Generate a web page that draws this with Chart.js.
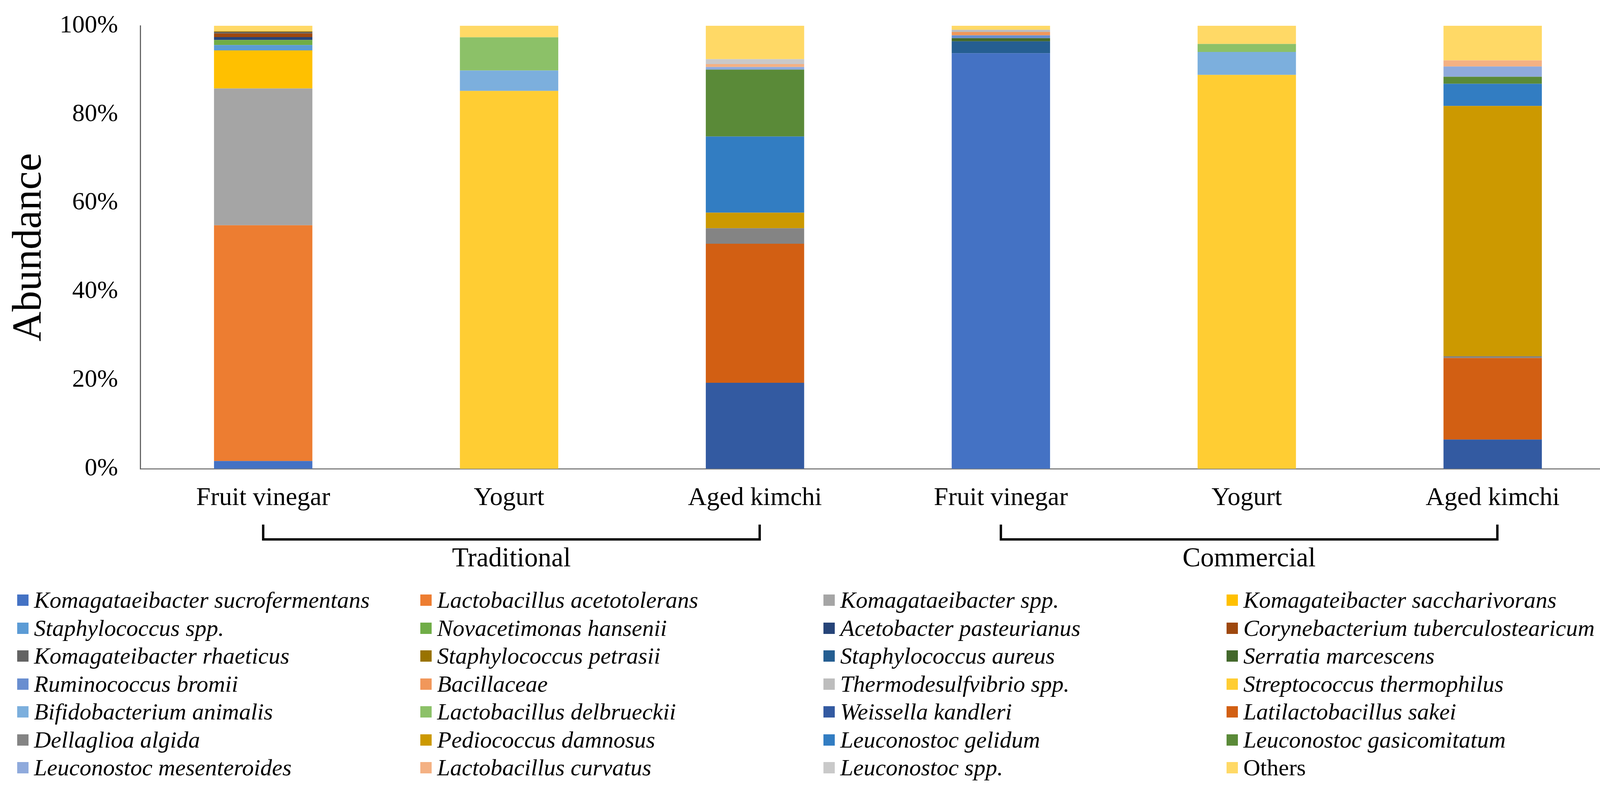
<!DOCTYPE html>
<html>
<head>
<meta charset="utf-8">
<script src="https://cdn.jsdelivr.net/npm/chart.js@4.4.1/dist/chart.umd.min.js"></script>
<style>
    html, body { margin: 0; padding: 0; background: #fff; }
    #wrap { position: relative; width: 4162px; height: 2020px; }
    #chart { position: absolute; left: 0; top: 0; }
    #legend {
        position: absolute; left: 44px; top: 1501px;
        display: grid; grid-template-columns: repeat(4, 1032px); grid-auto-rows: 71.5px;
        font-family: "Liberation Serif", "Times New Roman", serif;
        font-size: 60px; font-style: italic; color: #000;
    }
    .item { display: flex; align-items: center; white-space: nowrap; }
    .item.plain { font-style: normal; }
    .sw { width: 29px; height: 29px; margin-right: 14px; flex: none; }
</style>
</head>
<body>
<div id="wrap">
    <canvas id="chart" width="4162" height="2020"></canvas>
    <div id="legend"></div>
</div>
<script>
// Samples: Traditional (3) then Commercial (3)
const CATEGORIES = ['Fruit vinegar', 'Yogurt', 'Aged kimchi', 'Fruit vinegar', 'Yogurt', 'Aged kimchi'];
const GROUPS = ['Traditional', 'Commercial'];
const Y_TICKS = [0, 20, 40, 60, 80, 100];

// Relative abundance (%) per taxon, same order as CATEGORIES
const kSucrofermentans   = [1.75, 0, 0, 93.8, 0, 0];
const lAcetotolerans     = [53.2, 0, 0, 0, 0, 0];
const kSpp               = [30.9, 0, 0, 0, 0, 0];
const kSaccharivorans    = [8.6, 0, 0, 0, 0, 0];
const staphSpp           = [1.2, 0, 0, 0, 0, 0];
const nHansenii          = [1.15, 0, 0, 0, 0, 0];
const aPasteurianus      = [0.65, 0, 0, 0, 0, 0];
const cTuberculostearicum = [0.8, 0, 0, 0, 0, 0];
const kRhaeticus         = [0.35, 0, 0, 0, 0, 0];
const sPetrasii          = [0.15, 0, 0, 0, 0, 0];
const sAureus            = [0, 0, 0, 2.7, 0, 0];
const sMarcescens        = [0, 0, 0, 0.7, 0, 0];
const rBromii            = [0, 0, 0, 0.65, 0, 0];
const bacillaceae        = [0, 0, 0, 0.75, 0, 0];
const thermoSpp          = [0, 0, 0, 0.5, 0, 0];
const sThermophilus      = [0, 85.3, 0, 0, 88.9, 0];
const bAnimalis          = [0, 4.6, 0, 0, 5.2, 0];
const lDelbrueckii       = [0, 7.5, 0, 0, 1.8, 0];
const wKandleri          = [0, 0, 19.4, 0, 0, 6.6];
const lSakei             = [0, 0, 31.4, 0, 0, 18.4];
const dAlgida            = [0, 0, 3.5, 0, 0, 0.4];
const pDamnosus          = [0, 0, 3.5, 0, 0, 56.5];
const lGelidum           = [0, 0, 17.2, 0, 0, 5.0];
const lGasicomitatum     = [0, 0, 15.1, 0, 0, 1.6];
const lMesenteroides     = [0, 0, 0.6, 0, 0, 2.3];
const lCurvatus          = [0, 0, 0.65, 0, 0, 1.4];
const leuconostocSpp     = [0, 0, 1.1, 0, 0, 0];
const others             = [1.25, 2.6, 7.55, 0.9, 4.1, 7.8];

const TAXA = [
    'Komagataeibacter sucrofermentans', 'Lactobacillus acetotolerans', 'Komagataeibacter spp.', 'Komagateibacter saccharivorans',
    'Staphylococcus spp.', 'Novacetimonas hansenii', 'Acetobacter pasteurianus', 'Corynebacterium tuberculostearicum',
    'Komagateibacter rhaeticus', 'Staphylococcus petrasii', 'Staphylococcus aureus', 'Serratia marcescens',
    'Ruminococcus bromii', 'Bacillaceae', 'Thermodesulfvibrio spp.', 'Streptococcus thermophilus',
    'Bifidobacterium animalis', 'Lactobacillus delbrueckii', 'Weissella kandleri', 'Latilactobacillus sakei',
    'Dellaglioa algida', 'Pediococcus damnosus', 'Leuconostoc gelidum', 'Leuconostoc gasicomitatum',
    'Leuconostoc mesenteroides', 'Lactobacillus curvatus', 'Leuconostoc spp.', 'Others'
];

const VALUES = [
    kSucrofermentans, lAcetotolerans, kSpp, kSaccharivorans,
    staphSpp, nHansenii, aPasteurianus, cTuberculostearicum,
    kRhaeticus, sPetrasii, sAureus, sMarcescens,
    rBromii, bacillaceae, thermoSpp, sThermophilus,
    bAnimalis, lDelbrueckii, wKandleri, lSakei,
    dAlgida, pDamnosus, lGelidum, lGasicomitatum,
    lMesenteroides, lCurvatus, leuconostocSpp, others
];

const COLORS = [
    '#4472C4', '#ED7D31', '#A5A5A5', '#FFC000',
    '#5B9BD5', '#70AD47', '#264478', '#9E480E',
    '#636363', '#997300', '#255E91', '#43682B',
    '#698ED0', '#F1975A', '#BDBDBD', '#FFCD33',
    '#7CAFDD', '#8CC168', '#335AA1', '#D25F13',
    '#848484', '#CC9900', '#327DC2', '#5A8A38',
    '#8FAADC', '#F4B183', '#C9C9C9', '#FFD966'
];

const SERIF = '"Liberation Serif", "Times New Roman", serif';
Chart.defaults.font.family = SERIF;
Chart.defaults.color = '#000';

// Group brackets under the x axis
const groupBrackets = {
    id: 'groupBrackets',
    afterDraw(chart) {
        const ctx = chart.ctx;
        const x = chart.scales.x;
        const base = chart.chartArea.bottom;
        const spans = [[0, 2], [3, 5]];
        ctx.save();
        ctx.strokeStyle = '#000';
        ctx.lineWidth = 6;
        ctx.fillStyle = '#000';
        ctx.font = '69px ' + SERIF;
        ctx.textAlign = 'center';
        ctx.textBaseline = 'middle';
        spans.forEach((s, i) => {
            const x0 = x.getPixelForValue(s[0]);
            const x1 = x.getPixelForValue(s[1]) + 12;
            ctx.beginPath();
            ctx.moveTo(x0, base + 143);
            ctx.lineTo(x0, base + 181);
            ctx.lineTo(x1, base + 181);
            ctx.lineTo(x1, base + 143);
            ctx.stroke();
            ctx.fillText(GROUPS[i], (x0 + x1) / 2, base + 232);
        });
        ctx.restore();
    }
};

const datasets = TAXA.map((name, i) => ({
    label: name,
    data: VALUES[i],
    backgroundColor: COLORS[i],
    borderWidth: 0,
    categoryPercentage: 1.0,
    barPercentage: 0.4
}));

const chart = new Chart(document.getElementById('chart'), {
    type: 'bar',
    data: { labels: CATEGORIES, datasets: datasets },
    options: {
        responsive: false,
        animation: false,
        devicePixelRatio: 1,
        layout: { padding: { left: 0, right: 26, top: 66, bottom: 700 } },
        plugins: {
            legend: { display: false },
            tooltip: { enabled: false }
        },
        scales: {
            x: {
                stacked: true,
                grid: { display: false, drawTicks: false },
                border: { display: true, color: '#7f7f7f', width: 3 },
                ticks: { font: { size: 66 }, color: '#000', padding: 36, maxRotation: 0, autoSkip: false },
                afterFit: s => { s.height = 120; }
            },
            y: {
                stacked: true,
                min: 0,
                max: 100,
                afterBuildTicks: s => { s.ticks = Y_TICKS.map(v => ({ value: v })); },
                ticks: { font: { size: 64 }, color: '#000', padding: 57, callback: v => v + '%' },
                grid: { display: false, drawTicks: false },
                border: { display: true, color: '#666666', width: 3 },
                title: {
                    display: true,
                    text: 'Abundance',
                    font: { size: 106 },
                    color: '#000',
                    padding: { top: 13, bottom: 0 }
                },
                afterFit: s => {
                    s.width = 359;
                    // keep the plot top where the layout padding puts it
                    s.paddingTop = 0;
                    s.paddingBottom = 0;
                }
            }
        }
    },
    plugins: [groupBrackets]
});

// Legend in 4 columns, row-major, built from the datasets
const legendEl = document.getElementById('legend');
chart.data.datasets.forEach(ds => {
    const item = document.createElement('div');
    item.className = 'item' + (ds.label === 'Others' ? ' plain' : '');
    const sw = document.createElement('span');
    sw.className = 'sw';
    sw.style.background = ds.backgroundColor;
    const txt = document.createElement('span');
    txt.textContent = ds.label;
    item.appendChild(sw);
    item.appendChild(txt);
    legendEl.appendChild(item);
});
</script>
</body>
</html>
